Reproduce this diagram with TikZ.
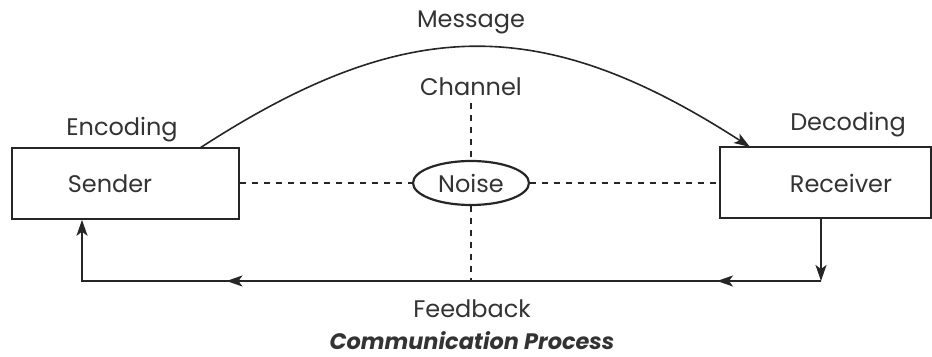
\documentclass[tikz,border=0pt]{standalone}
\usepackage{fontspec}
\setmainfont{Poppins}
\usetikzlibrary{arrows.meta, decorations.markings, shapes.geometric}
\colorlet{linecol}{black!85}
\colorlet{textcol}{black!80}
\def\tiplen{8pt}
\def\tipwid{5.5pt}

\begin{document}
\begin{tikzpicture}[x=0.5pt, y=-0.5pt, font=\fontsize{12}{14}\selectfont, text=textcol,
    box/.style={draw=linecol, line width=0.8pt, minimum width=113.5pt, minimum height=35.5pt},
    link/.style={line width=1.4pt, dash pattern=on 3pt off 3pt, linecol},
    flow/.style={line width=0.8pt, linecol, -{Stealth[length=\tiplen, width=\tipwid, inset=2pt]}}]
  \useasboundingbox (0,0) rectangle (932,357);

  % boxes and noise
  \node[box] (sender) at (125.5,183.5) {};
  \node[box, minimum width=105.5pt] (receiver) at (825.5,182.5) {};
  \node (sendertxt) at (110,183.5) {Sender};
  \node (receivertxt) at (841,183.5) {Receiver};
  \node[ellipse, draw=linecol, line width=1.1pt, minimum width=58pt, minimum height=22pt, inner sep=0pt] (noise) at (471,183) {Noise};

  % labels
  \node (message) at (471,22) {Message};
  \node (channel) at (471,87) {Channel};
  \node (encoding) at (122,130) {Encoding};
  \node (decoding) at (848,125) {Decoding};
  \node (feedback) at (472,309) {Feedback};
  \node[font=\fontsize{11.2}{13}\selectfont\bfseries\itshape] (title) at (472,341) {Communication Process};

  % channel lines
  \draw[link] (sender.east |- noise) -- (noise.west);
  \draw[link] (noise.east) -- (receiver.west |- noise);
  \draw[link] (channel.south) -- (noise.north);
  \coordinate (fbR) at (821,281);
  \coordinate (fbL) at (82,281);
  \draw[link] (noise.south) -- (noise.south |- fbL);

  % message
  \coordinate (msgout) at (200,148);
  \coordinate (msgin) at (750,147);
  \draw[flow] (msgout) .. controls (407,13.5) and (543,13.5) .. (msgin);

  % feedback loop
  \draw[flow] (receiver.south -| fbR) -- (fbR);
  \draw[flow, postaction={decorate}, decoration={markings,
      mark=at position 0.13 with {\arrow{Stealth[length=\tiplen, width=\tipwid, inset=2pt]}},
      mark=at position 0.743 with {\arrow{Stealth[length=\tiplen, width=\tipwid, inset=2pt]}}}]
    (fbR) -- (fbL) -- (sender.south -| fbL);
\end{tikzpicture}
\end{document}
